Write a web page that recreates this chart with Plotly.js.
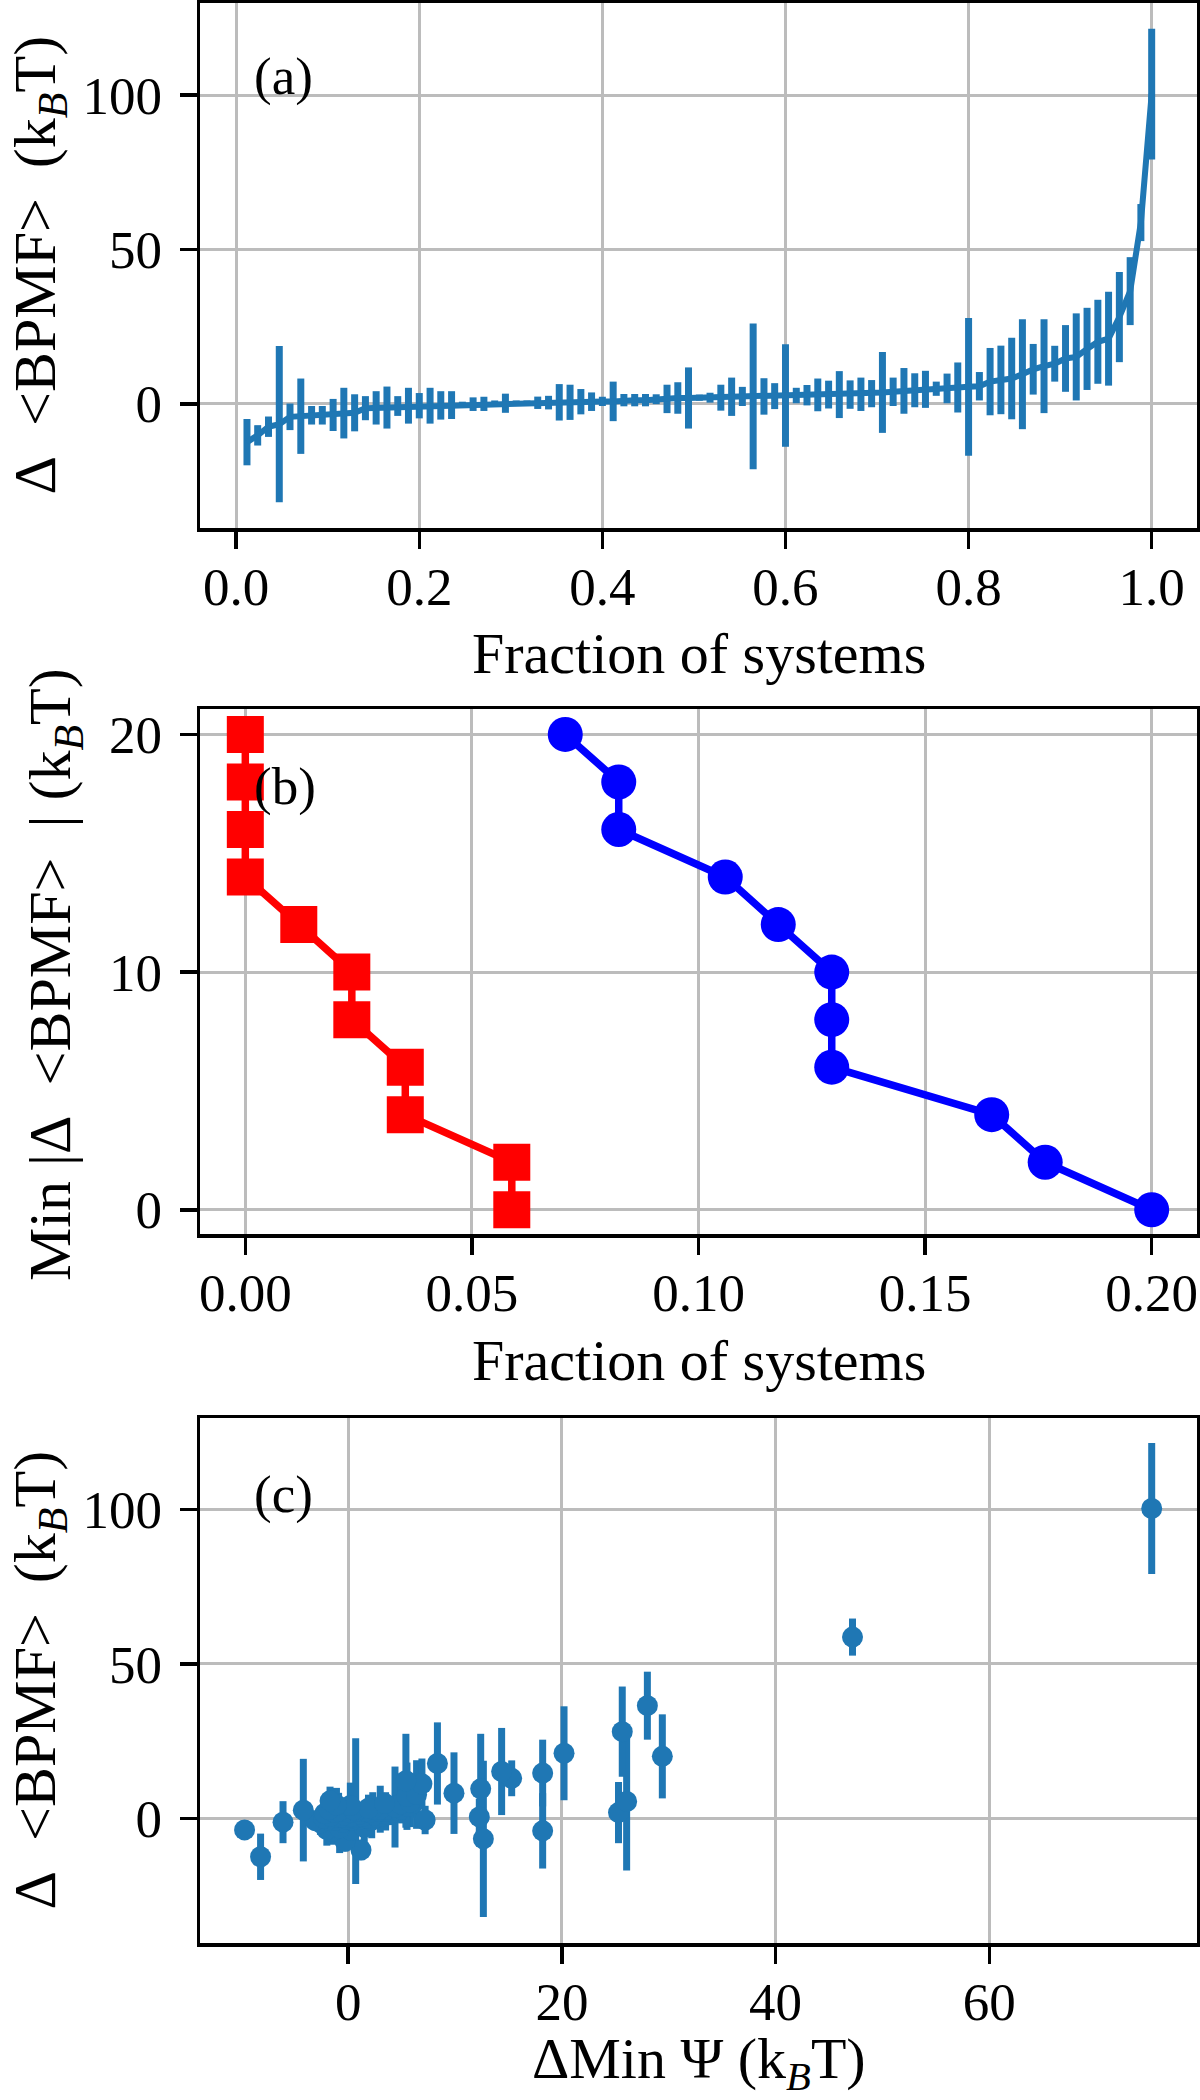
<!DOCTYPE html>
<html>
<head>
<meta charset="utf-8">
<script src="https://cdn.plot.ly/plotly-3.0.1.min.js"></script>
<style>html,body{margin:0;padding:0;background:#fff;}#plot{width:1200px;height:2100px;}</style>
</head>
<body>
<div id="plot"></div>
<script>
// ---- Panel (a): systems sorted by Δ<BPMF>, plotted against fraction of systems ----
const fracA = [0.0118,0.0235,0.0353,0.0471,0.0588,0.0706,0.0824,0.0941,0.1059,0.1176,
  0.1294,0.1412,0.1529,0.1647,0.1765,0.1882,0.2000,0.2118,0.2235,0.2353,
  0.2471,0.2588,0.2706,0.2824,0.2941,0.3059,0.3176,0.3294,0.3412,0.3529,
  0.3647,0.3765,0.3882,0.4000,0.4118,0.4235,0.4353,0.4471,0.4588,0.4706,
  0.4824,0.4941,0.5059,0.5176,0.5294,0.5412,0.5529,0.5647,0.5765,0.5882,
  0.6000,0.6118,0.6235,0.6353,0.6471,0.6588,0.6706,0.6824,0.6941,0.7059,
  0.7176,0.7294,0.7412,0.7529,0.7647,0.7765,0.7882,0.8000,0.8118,0.8235,
  0.8353,0.8471,0.8588,0.8706,0.8824,0.8941,0.9059,0.9176,0.9294,0.9412,
  0.9529,0.9647,0.9765,0.9882,1.0000];
const dBPMF = [-12.4,-10.2,-7.4,-6.6,-4.2,-4.0,-3.7,-3.7,-3.6,-3.0,
  -2.9,-1.4,-1.3,-1.2,-0.7,-0.6,-0.6,-0.6,-0.5,-0.4,
  -0.3,-0.1,0.0,0.1,0.2,0.3,0.3,0.35,0.4,0.5,
  0.5,0.7,0.7,0.8,0.8,1.2,1.2,1.2,1.5,1.6,
  1.9,1.9,2.0,2.0,2.0,2.3,2.4,2.4,2.4,2.5,
  2.7,2.7,2.8,2.9,3.0,3.0,3.0,3.1,3.3,3.7,
  3.9,4.2,4.4,4.7,4.9,5.0,5.3,5.5,5.7,7.2,
  7.75,8.2,9.6,11.2,12.2,13.0,14.7,15.2,17.8,20.1,
  21.1,28.1,36.5,58.7,100.3];
const dBPMFerr = [7.5,3.3,3.3,25.3,4.3,12.2,3.0,3.0,5.2,8.2,
  6.0,3.9,5.4,6.8,3.2,5.8,4.1,5.8,4.6,4.5,
  1.0,2.2,2.3,1.0,3.1,0.8,0.8,2.0,2.2,5.9,
  5.7,4.1,3.0,1.5,6.4,2.0,2.0,2.0,1.6,4.6,
  5.1,9.9,1.0,1.6,4.2,6.2,3.1,23.6,5.9,4.2,
  16.6,2.5,3.3,5.3,4.5,7.6,4.6,5.4,4.4,13.1,
  4.6,7.4,5.5,6.0,2.3,4.8,8.1,22.3,4.6,10.9,
  11.1,13.2,17.8,8.2,15.2,5.8,10.8,14.1,13.3,13.6,
  15.2,14.6,11.0,6.0,21.2];
// ---- Panel (c): ΔMin Ψ of the same systems (same order as above) ----
const dMinPsi = [-8.2,1.2,-0.3,12.65,-1.5,18.2,-9.7,0.2,-2.0,-0.8,
  1.5,-2.6,-0.5,-6.1,-3.1,0.4,-1.2,2.2,7.2,-1.9,
  1.0,-0.2,0.6,-2.3,1.8,0.0,-1.0,2.7,0.9,12.27,
  -0.6,3.3,1.3,-1.6,0.3,2.5,-0.4,3.8,1.1,-2.2,
  0.1,25.3,2.0,4.2,-1.3,3.5,1.6,0.7,-0.9,2.9,
  -4.2,4.6,0.5,-1.8,3.6,3.0,5.0,2.3,1.9,4.38,
  5.6,0.2,-1.1,4.9,3.4,6.1,5.8,26.06,-1.7,5.5,
  6.4,9.9,12.4,6.9,5.4,15.3,18.2,14.36,8.35,29.4,
  20.2,25.65,28.0,47.2,75.2];
// ---- Panel (b) ----
const minThreshold = [20,18,16,14,12,10,8,6,4,2,0];
const fracRed  = [0.0,0.0,0.0,0.0,0.0118,0.0235,0.0235,0.0353,0.0353,0.0588,0.0588];
const fracBlue = [0.0706,0.0824,0.0824,0.1059,0.1176,0.1294,0.1294,0.1294,0.1647,0.1765,0.2000];
// ---- tick values ----
const ticksA = [0,0.2,0.4,0.6,0.8,1.0];
const ticksAy = [0,50,100];
const ticksB = [0,0.05,0.10,0.15,0.20];
const ticksBy = [0,10,20];
const ticksC = [0,20,40,60];

const C0 = '#1f77b4';
const FONT = 'Liberation Serif, Times New Roman, serif';
const W = 1200, H = 2100;
const L = 200, R = 1197;
const px = v => v / W, py = v => 1 - v / H;

const traces = [
  {x: fracA, y: dBPMF, type: 'scatter', mode: 'lines', xaxis: 'x', yaxis: 'y',
   line: {color: C0, width: 6},
   error_y: {type: 'data', array: dBPMFerr, visible: true, thickness: 7, width: 0, color: C0}},
  {x: fracRed, y: minThreshold, type: 'scatter', mode: 'lines+markers', xaxis: 'x2', yaxis: 'y2',
   line: {color: '#ff0000', width: 7.5}, marker: {symbol: 'square', size: 37, color: '#ff0000'}},
  {x: fracBlue, y: minThreshold, type: 'scatter', mode: 'lines+markers', xaxis: 'x2', yaxis: 'y2',
   line: {color: '#0000ff', width: 7.5}, marker: {symbol: 'circle', size: 35, color: '#0000ff'}},
  {x: dMinPsi, y: dBPMF, type: 'scatter', mode: 'markers', xaxis: 'x3', yaxis: 'y3',
   marker: {color: C0, size: 21},
   error_y: {type: 'data', array: dBPMFerr, visible: true, thickness: 7, width: 0, color: C0}}
];

function ax(extra) {
  return Object.assign({
    showgrid: true, gridcolor: '#bcbcbc', gridwidth: 3,
    showline: true, mirror: true, linecolor: '#000', linewidth: 3.5,
    ticks: 'outside', ticklen: 17, tickwidth: 3.5, tickcolor: '#000',
    zeroline: false, tickfont: {family: FONT, size: 53, color: '#000'},
    tickmode: 'array', fixedrange: true
  }, extra);
}
const XS = -7, YS = 7;
const layout = {
  width: W, height: H, margin: {l: 0, r: 0, t: 0, b: 0},
  paper_bgcolor: '#fff', plot_bgcolor: '#fff', showlegend: false,
  font: {family: FONT, color: '#000'},
  xaxis:  ax({domain: [px(L), px(R)], anchor: 'y',  range: [-0.0395, 1.0495], tickvals: ticksA, tickformat: '.1f', ticklabelstandoff: XS}),
  yaxis:  ax({domain: [py(528), py(3)], anchor: 'x', range: [-40.2, 129.8], tickvals: ticksAy, ticklabelstandoff: YS}),
  xaxis2: ax({domain: [px(L), px(R)], anchor: 'y2', range: [-0.01, 0.21], tickvals: ticksB, tickformat: '.2f', ticklabelstandoff: XS}),
  yaxis2: ax({domain: [py(1234), py(709)], anchor: 'x2', range: [-1.02, 21.07], tickvals: ticksBy, ticklabelstandoff: YS}),
  xaxis3: ax({domain: [px(L), px(R)], anchor: 'y3', range: [-13.87, 79.44], tickvals: ticksC, ticklabelstandoff: XS}),
  yaxis3: ax({domain: [py(1943), py(1418)], anchor: 'x3', range: [-40.3, 129.6], tickvals: ticksAy, ticklabelstandoff: YS}),
  annotations: []
};

const EN = '\u2002';
const yLab = 'Δ' + EN + '&lt;BPMF&gt;' + EN + '(k<sub><i>B</i></sub>T)';
const yLabB = 'Min |Δ' + EN + '&lt;BPMF&gt;' + EN + '| (k<sub><i>B</i></sub>T)';
const xLab = 'Fraction of systems';
const xLabC = 'ΔMin Ψ (k<sub><i>B</i></sub>T)';
const A = (text, x, y, size, opts) => layout.annotations.push(Object.assign({
  text, x: px(x), y: py(y), xref: 'paper', yref: 'paper', showarrow: false,
  xanchor: 'center', yanchor: 'middle', font: {family: FONT, size: size, color: '#000'}}, opts || {}));

A(xLab, 698.5, 654, 58);
A(xLab, 698.5, 1360, 58);
A(xLabC, 698.5, 2062, 58);
A(yLab, 39, 265.5, 60, {textangle: -90});
A(yLabB, 54, 975, 60, {textangle: -90});
A(yLab, 39, 1680.5, 60, {textangle: -90});
A('(a)', 252, 77, 53, {xanchor: 'left'});
A('(b)', 252, 786, 53, {xanchor: 'left'});
A('(c)', 252, 1494, 53, {xanchor: 'left'});

Plotly.newPlot('plot', traces, layout, {staticPlot: true, displayModeBar: false});
</script>
</body>
</html>
